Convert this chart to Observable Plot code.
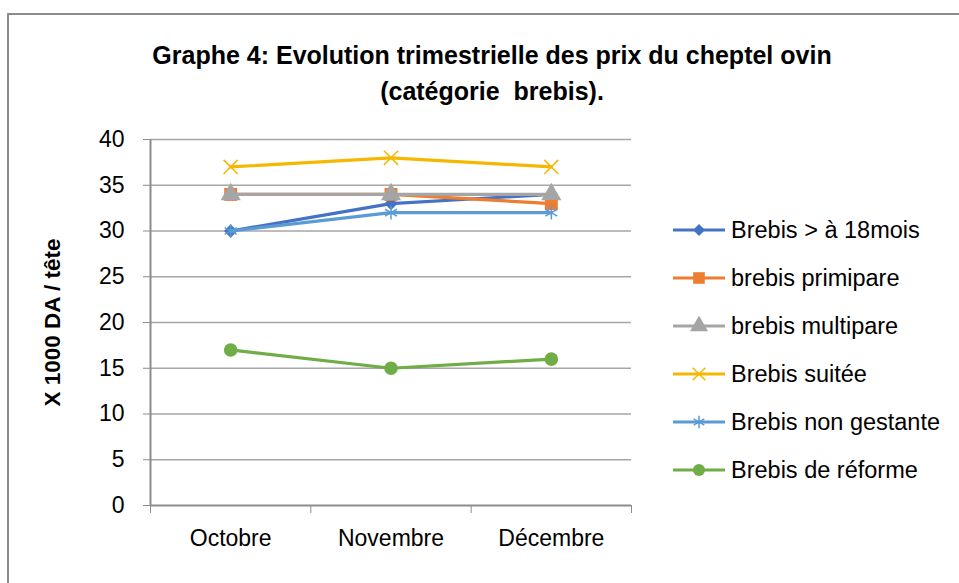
<!DOCTYPE html>
<html><head><meta charset="utf-8">
<script src="https://cdn.jsdelivr.net/npm/d3@7"></script>
<script src="https://cdn.jsdelivr.net/npm/@observablehq/plot@0.6"></script>
<style>
body{margin:0;background:#fff;overflow:hidden;font-family:"Liberation Sans",Arial,sans-serif}
#wrap{position:relative;width:959px;height:583px;overflow:hidden;background:#fff}
#frame{position:absolute;left:7px;top:13px;width:1000px;height:1000px;border:2px solid #8c8c8c;box-sizing:border-box}
#title{position:absolute;left:0;width:984px;top:37px;text-align:center;font-weight:bold;font-size:25px;line-height:36px;color:#000}
#chart{position:absolute;left:0;top:120px}
#legend{position:absolute;left:672px;top:206px}
.row{display:flex;align-items:center;height:48px;font-size:23.5px;color:#000;white-space:nowrap}
.row svg{margin-right:5px}
</style>
</head><body>
<div id="wrap">
  <div id="frame"></div>
  <div id="title">Graphe 4: Evolution trimestrielle des prix du cheptel ovin<br>(catégorie&nbsp; brebis).</div>
  <div id="chart"></div>
  <div id="legend"></div>
</div>
<script>
const months = ["Octobre", "Novembre", "Décembre"];
const seriesNames = ["Brebis > à 18mois", "brebis primipare", "brebis multipare", "Brebis suitée", "Brebis non gestante", "Brebis de réforme"];
const colors = ["#4472c4", "#ed7d31", "#a5a5a5", "#f5b800", "#5b9bd5", "#70ad47"];
const brebis18 = [30, 33, 34];
const primipare = [34, 34, 33];
const multipare = [34, 34, 34];
const suitee = [37, 38, 37];
const nonGestante = [30, 32, 32];
const reforme = [17, 15, 16];
const yTicks = [0, 5, 10, 15, 20, 25, 30, 35, 40];
const yLabel = "X 1000 DA / tête";

const seriesValues = [brebis18, primipare, multipare, suitee, nonGestante, reforme];
const symbols = [d3.symbolDiamond2, d3.symbolSquare, d3.symbolTriangle, d3.symbolTimes, d3.symbolAsterisk, d3.symbolCircle];
const filled = [true, true, true, false, false, true];
const radii = [6, 7.3, 7.5, 6.5, 6.5, 6.8];

const series = seriesNames.map((name, i) => ({
  name, color: colors[i], symbol: symbols[i], filled: filled[i], r: radii[i],
  data: seriesValues[i].map((v, j) => ({name, pos: j + 0.5, month: months[j], v}))
}));

const marks = [
  Plot.gridY(yTicks.filter(d => d > 0), {stroke: "#a6a6a6", strokeOpacity: 1, strokeWidth: 1.5}),
  Plot.axisY(yTicks, {tickSize: 7, tickPadding: 19, stroke: "#8c8c8c", fontSize: 23, label: null}),
  Plot.ruleX([0], {stroke: "#8c8c8c", strokeWidth: 2}),
  Plot.ruleY([0], {stroke: "#8c8c8c", strokeWidth: 2}),
  Plot.axisX([0, 1, 2, 3], {tickSize: 8, tickFormat: () => "", stroke: "#8c8c8c", label: null}),
  Plot.axisX([0.5, 1.5, 2.5], {tickSize: 0, tickPadding: 24, fontSize: 23, tickFormat: d => months[Math.floor(d)], label: null}),
  Plot.text([yLabel], {frameAnchor: "left", textAnchor: "middle", dx: -98, rotate: -90, fontWeight: "bold", fontSize: 22.5, text: d => d, fill: "#000"})
];
for (const s of series) {
  marks.push(Plot.line(s.data, {x: "pos", y: "v", stroke: s.color, strokeWidth: 3.2}));
  marks.push(Plot.dot(s.data, {x: "pos", y: "v", symbol: s.symbol, r: s.r,
    fill: s.filled ? s.color : "none", stroke: s.filled ? "none" : s.color, strokeWidth: 1.5}));
}

const chart = Plot.plot({
  width: 959, height: 463,
  marginLeft: 150, marginRight: 328, marginTop: 19, marginBottom: 78,
  style: {fontFamily: "Liberation Sans, Arial, sans-serif", fontSize: "20px", color: "#000", background: "transparent", overflow: "visible"},
  x: {domain: [0, 3], axis: null},
  y: {domain: [0, 40], axis: null},
  marks
});
document.getElementById("chart").append(chart);

const legend = d3.select("#legend");
for (const s of series) {
  const row = legend.append("div").attr("class", "row");
  const svg = row.append("svg").attr("width", 54).attr("height", 20);
  svg.append("line").attr("x1", 1).attr("x2", 53).attr("y1", 10).attr("y2", 10)
    .attr("stroke", s.color).attr("stroke-width", 3.2);
  svg.append("path").attr("transform", "translate(27,10)")
    .attr("d", d3.symbol(s.symbol, Math.PI * s.r * s.r * 0.8)())
    .attr("fill", s.filled ? s.color : "none").attr("stroke", s.filled ? "none" : s.color).attr("stroke-width", 1.5);
  row.append("span").text(s.name);
}
</script>
</body></html>
